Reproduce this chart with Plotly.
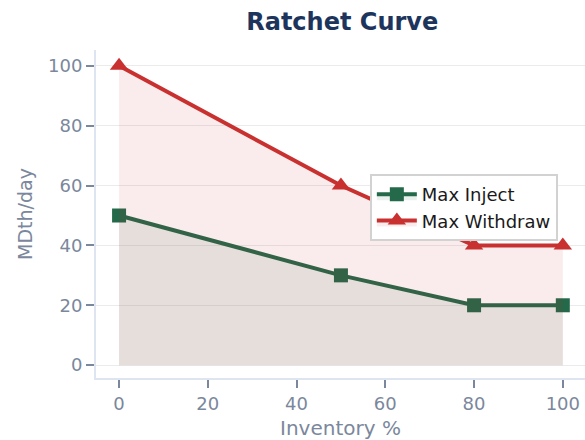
import plotly.graph_objects as go

inventory_pct = [0, 50, 80, 100]
max_inject = [50, 30, 20, 20]
max_withdraw = [100, 60, 40, 40]

font_family = "DejaVu Sans"
tick_color = "#7b879c"

fig = go.Figure()
fig.add_trace(go.Scatter(
    x=inventory_pct, y=max_inject, name="Max Inject",
    mode="lines+markers",
    line=dict(color="#24694a", width=4),
    marker=dict(symbol="square", size=14, color="#24694a"),
    fill="tozeroy", fillcolor="rgba(36,105,74,0.10)",
))
fig.add_trace(go.Scatter(
    x=inventory_pct, y=max_withdraw, name="Max Withdraw",
    mode="lines+markers",
    line=dict(color="#c8312f", width=4),
    marker=dict(symbol="triangle-up", size=16, color="#c8312f"),
    fill="tozeroy", fillcolor="rgba(200,49,47,0.09)",
))

fig.update_layout(
    width=585, height=440,
    margin=dict(l=96, r=0, t=50, b=62),
    paper_bgcolor="white", plot_bgcolor="white",
    font=dict(family=font_family, size=18, color=tick_color),
    title=dict(text="<b>Ratchet Curve</b>", x=0.585, xanchor="center", y=0.95, yanchor="middle",
               font=dict(family=font_family, size=24, color="#1d355c")),
    legend=dict(x=0.56, y=0.622, xanchor="left", yanchor="top",
                bgcolor="white", bordercolor="#d2d2d2", borderwidth=2,
                font=dict(family=font_family, size=18, color="#1a1a1a"),
                tracegroupgap=0, itemwidth=40),
    showlegend=True,
)
fig.update_xaxes(
    range=[-5.2, 105], tickvals=[0, 20, 40, 60, 80, 100],
    showline=True, linecolor="#dfe5f0", linewidth=2,
    ticks="outside", ticklen=8, tickwidth=2, tickcolor=tick_color,
    showgrid=False, zeroline=False,
    title=dict(text="Inventory %", font=dict(size=20, color=tick_color), standoff=9),
)
fig.update_yaxes(
    range=[-4.3, 105.3], tickvals=[0, 20, 40, 60, 80, 100],
    showline=True, linecolor="#dfe5f0", linewidth=2,
    ticks="outside", ticklen=8, tickwidth=2, tickcolor=tick_color,
    showgrid=True, gridcolor="#ebebeb", gridwidth=1, zeroline=False,
    title=dict(text="MDth/day", font=dict(size=19, color=tick_color), standoff=10),
)

fig.write_html("out.html")
